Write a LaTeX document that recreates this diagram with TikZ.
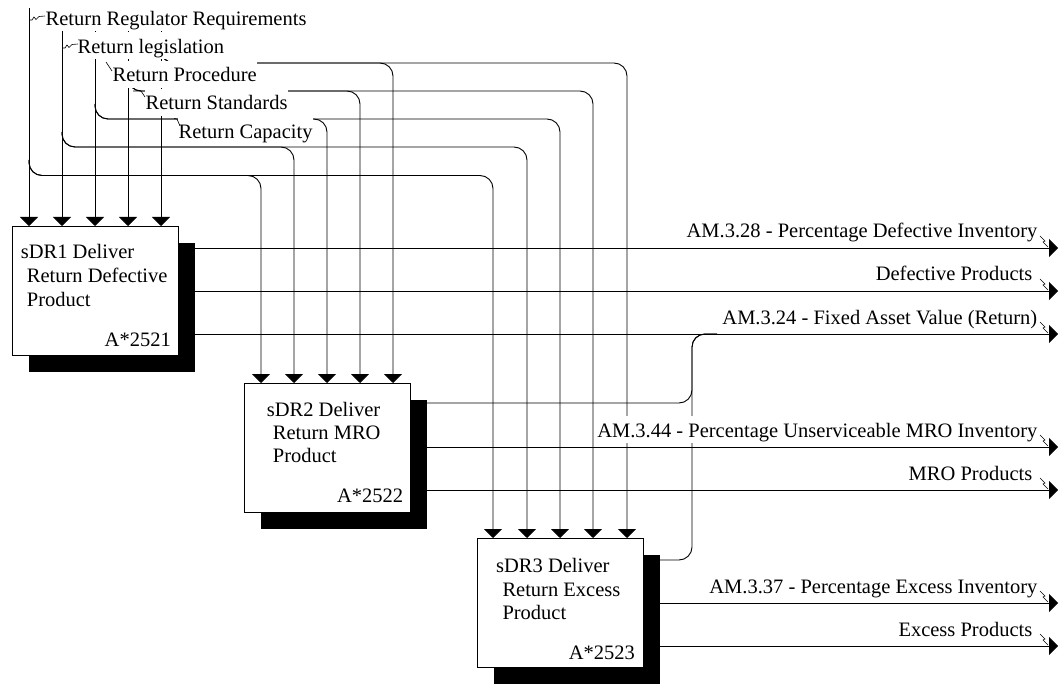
\documentclass[tikz,border=0pt]{standalone}
\usepackage{fontspec}
\setmainfont{Liberation Serif}
\usetikzlibrary{arrows.meta}
\begin{document}
\begin{tikzpicture}[x=1pt,y=-1pt,
  conn/.style={line width=0.9pt},
  arr/.style={conn,-{Triangle[length=9pt,width=18pt]}},
  rconn/.style={conn,rounded corners=13pt},
  barr/.style={arr,rounded corners=13pt},
  lbl/.style={fill=white,inner xsep=0.5pt,inner ysep=0pt,text height=21pt,text depth=6pt,font=\fontsize{20.5}{23}\selectfont},
  txt/.style={inner sep=0pt,font=\fontsize{20.5}{23}\selectfont},
  box/.style={draw,fill=white,line width=0.9pt,inner sep=0pt,anchor=north west,minimum width=166pt,minimum height=129pt},
  shd/.style={fill=black,inner sep=0pt,anchor=north west,minimum width=166pt,minimum height=129pt},
  squig/.style={line width=0.6pt},
]
\useasboundingbox (0,0) rectangle (1059,684);

% shadows
\node[shd] (s1) at (29,243) {};
\node[shd] (s2) at (261,400) {};
\node[shd] (s3) at (494,555) {};

% top sources
\coordinate (t1) at (29,8);
\coordinate (t2) at (62,8);
\coordinate (t3) at (95,8);
\coordinate (t4) at (128,8);
\coordinate (t5) at (161,8);
% branch points
\coordinate (j1) at (29,160);
\coordinate (j2) at (62,132);
\coordinate (j3) at (95,104);
\coordinate (j4) at (128,76);
\coordinate (j5) at (161,48);
% box 1 input ports
\coordinate (p11) at (29,226);
\coordinate (p12) at (62,226);
\coordinate (p13) at (95,226);
\coordinate (p14) at (128,226);
\coordinate (p15) at (161,226);
% box 2 input ports
\coordinate (p21) at (261,383);
\coordinate (p22) at (294,383);
\coordinate (p23) at (327,383);
\coordinate (p24) at (360,383);
\coordinate (p25) at (393,383);
% box 3 input ports
\coordinate (p31) at (493,538);
\coordinate (p32) at (527,538);
\coordinate (p33) at (560,538);
\coordinate (p34) at (593,538);
\coordinate (p35) at (627,538);

% outputs
\coordinate (o11) at (195,248);
\coordinate (o12) at (195,291);
\coordinate (o13) at (195,334);
\coordinate (o21) at (427,403);
\coordinate (o22) at (427,447);
\coordinate (o23) at (427,490);
\coordinate (o31) at (659,560);
\coordinate (o32) at (659,603);
\coordinate (o33) at (659,646);
\coordinate (m) at (692,334);
\coordinate (e1) at (1058,248);
\coordinate (e2) at (1058,291);
\coordinate (e3) at (1058,334);
\coordinate (e4) at (1058,447);
\coordinate (e5) at (1058,490);
\coordinate (e6) at (1058,603);
\coordinate (e7) at (1058,646);

% input lines
\foreach \i in {1,...,5} {\draw[arr] (t\i) -- (p1\i);}
\draw[barr] (j1) -- ++(0,15.5) -| (p21);
\draw[barr] (j1) -- ++(0,15.5) -| (p31);
\draw[barr] (j2) -- ++(0,15) -| (p22);
\draw[barr] (j2) -- ++(0,15) -| (p32);
\draw[barr] (j3) -- ++(0,15) -| (p23);
\draw[barr] (j3) -- ++(0,15) -| (p33);
\draw[barr] (j4) -- ++(0,15) -| (p24);
\draw[barr] (j4) -- ++(0,15) -| (p34);
\draw[barr] (j5) -- ++(0,15) -| (p25);
\draw[barr] (j5) -- ++(0,15) -| (p35);

% output lines
\draw[arr] (o11) -- (e1);
\draw[arr] (o12) -- (e2);
\draw[arr] (o13) -- (e3);
\draw[rconn] (o21) -| (m) -- ++(25,0);
\draw[arr] (o22) -- (e4);
\draw[arr] (o23) -- (e5);
\draw[rconn] (o31) -| (m) -- ++(25,0);
\draw[arr] (o32) -- (e6);
\draw[arr] (o33) -- (e7);

% boxes
\node[box] (b1) at (12,226) {};
\node[box] (b2) at (244,383) {};
\node[box] (b3) at (477,538) {};

% box texts
\node[txt,anchor=base west] (b1a) at (20.7,258.3) {sDR1 Deliver};
\node[txt,anchor=base west] (b1b) at (26.7,282.5) {Return Defective};
\node[txt,anchor=base west] (b1c) at (26.7,306) {Product};
\node[txt,anchor=base east] (b1d) at (171,346) {A*2521};
\node[txt,anchor=base west] (b2a) at (266.7,416.7) {sDR2 Deliver};
\node[txt,anchor=base west] (b2b) at (272.7,439.5) {Return MRO};
\node[txt,anchor=base west] (b2c) at (272.7,462.7) {Product};
\node[txt,anchor=base east] (b2d) at (403.3,502.3) {A*2522};
\node[txt,anchor=base west] (b3a) at (496,572.7) {sDR3 Deliver};
\node[txt,anchor=base west] (b3b) at (502.3,596) {Return Excess};
\node[txt,anchor=base west] (b3c) at (502.3,619.3) {Product};
\node[txt,anchor=base east] (b3d) at (635,659.3) {A*2523};

% top labels
\node[lbl,anchor=base west] (l1) at (45,25.5) {Return Regulator Requirements};
\node[lbl,anchor=base west] (l2) at (77,53.5) {Return legislation};
\node[lbl,anchor=base west] (l3) at (112,81.8) {Return Procedure};
\node[lbl,anchor=base west] (l4) at (145,110) {Return Standards};
\node[lbl,anchor=base west] (l5) at (178,138.3) {Return Capacity};

% top label leaders
\draw[squig] (29,20) -- (32,20) -- (34,17) -- (36,19.5) -- (39,16.5) -- (45,16);
\draw[squig] (62,48) -- (65,48) -- (67,45) -- (69,47.5) -- (72,44.5) -- (78,44);
\draw[squig] (106,62) -- (112,71);
\draw[squig] (133,91) -- (141,91) -- (145,97);
\draw[squig] (174,118.5) -- (177,119) -- (180,126);

% output labels
\node[lbl,anchor=base east] (r1) at (1038,238) {AM.3.28 - Percentage Defective Inventory};
\node[lbl,anchor=base east] (r2) at (1033,281) {Defective Products};
\node[lbl,anchor=base east] (r3) at (1038,324) {AM.3.24 - Fixed Asset Value (Return)};
\node[lbl,anchor=base east] (r4) at (1038,437) {AM.3.44 - Percentage Unserviceable MRO Inventory};
\node[lbl,anchor=base east] (r5) at (1033,480) {MRO Products};
\node[lbl,anchor=base east] (r6) at (1038,593) {AM.3.37 - Percentage Excess Inventory};
\node[lbl,anchor=base east] (r7) at (1033,636) {Excess Products};

% output label leaders
\foreach \L in {248,291,334,447,490,603,646} {
  \draw[squig] (1040,\L-12) -- (1045,\L-7) -- (1043,\L-6) -- (1048,\L-1);
}
\end{tikzpicture}
\end{document}
